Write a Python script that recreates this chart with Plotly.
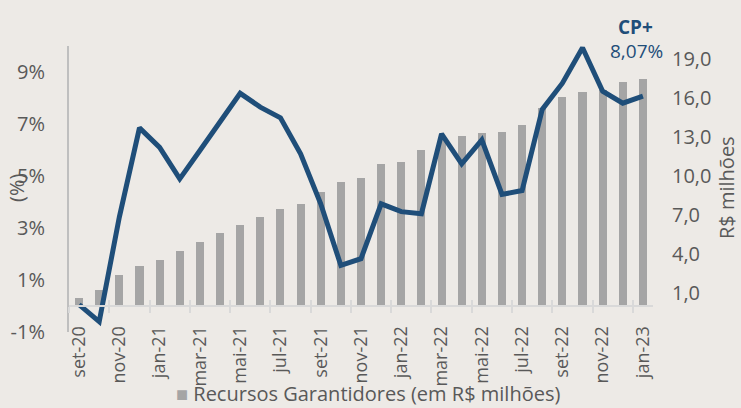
import plotly.graph_objects as go

months = ["set-20", "out-20", "nov-20", "dez-20", "jan-21", "fev-21", "mar-21", "abr-21",
          "mai-21", "jun-21", "jul-21", "ago-21", "set-21", "out-21", "nov-21", "dez-21",
          "jan-22", "fev-22", "mar-22", "abr-22", "mai-22", "jun-22", "jul-22", "ago-22",
          "set-22", "out-22", "nov-22", "dez-22", "jan-23"]
recursos = [0.6, 1.2, 2.35, 3.05, 3.55, 4.25, 4.95, 5.65, 6.25, 6.85, 7.45, 7.85, 8.8,
            9.55, 9.85, 10.9, 11.1, 12.0, 12.8, 13.1, 13.3, 13.4, 13.9, 15.2, 16.1,
            16.5, 16.6, 17.2, 17.45]
cp_plus = [0.05, -0.6, 3.42, 6.85, 6.1, 4.89, 5.98, 7.07, 8.18, 7.65, 7.24, 5.85, 3.93,
           1.56, 1.82, 3.93, 3.63, 3.55, 6.62, 5.47, 6.39, 4.29, 4.44, 7.56, 8.57, 9.93,
           8.26, 7.8, 8.07]
left_ticks = [-1, 1, 3, 5, 7, 9]
right_ticks = [1, 4, 7, 10, 13, 16, 19]
legend_label = "Recursos Garantidores (em R$ milhões)"

BG = "#EDEAE6"
BLUE = "#1F4E79"
GRAY_BAR = "#A5A5A5"
TXT = "#595959"
FONT = "Open Sans"

n = len(months)
xs = list(range(n))
label_idx = xs[::2]
boundaries = [i - 0.5 for i in xs[::2]]

fig = go.Figure()
fig.add_trace(go.Bar(x=xs, y=recursos, width=0.4, marker=dict(color=GRAY_BAR, line=dict(width=0)),
                     name=legend_label, xaxis="x", yaxis="y", showlegend=False,
                     hoverinfo="skip"))
fig.add_trace(go.Scatter(x=xs, y=cp_plus, mode="lines", line=dict(color=BLUE, width=5),
                         showlegend=False, xaxis="x2", yaxis="y2", hoverinfo="skip"))

L, R, T, B = 69, 88, 46, 76
W, H = 741, 408
pw, ph = W - L - R, H - T - B
zero_pos = (0 - (-1)) / (10 - (-1))

fig.update_layout(
    width=W, height=H,
    margin=dict(l=L, r=R, t=T, b=B, pad=0, autoexpand=False),
    paper_bgcolor=BG, plot_bgcolor=BG,
    font=dict(family=FONT, color=TXT, size=20),
    bargap=0,
    showlegend=False,
    xaxis=dict(range=[-0.5, n - 0.5], anchor="free", position=zero_pos, automargin=False,
               showline=True, linecolor="#D9D9D9", linewidth=2,
               tickmode="array", tickvals=label_idx, ticktext=months[::2],
               tickangle=-90, ticks="", showgrid=False, zeroline=False,
               ticklabelstandoff=12,
               minor=dict(tickmode="array", tickvals=boundaries, ticks="outside",
                          ticklen=6, tickwidth=2, tickcolor="#D9D9D9", showgrid=False),
               tickfont=dict(size=18, color=TXT, family=FONT)),
    xaxis2=dict(range=[-0.5, n - 0.5], overlaying="x", anchor="free", position=zero_pos,
                automargin=False,
                showline=False, tickmode="array", tickvals=boundaries, ticks="inside",
                ticklen=6, tickwidth=2, tickcolor="#D9D9D9", showticklabels=False,
                showgrid=False, zeroline=False),
    yaxis=dict(range=[-2, 20], side="right", tickmode="array", tickvals=right_ticks,
               ticktext=[f"{v:.1f}".replace(".", ",") for v in right_ticks],
               showgrid=False, zeroline=False, showline=False, ticks="", automargin=False,
               ticklabelstandoff=18, tickfont=dict(size=20, color=TXT, family=FONT)),
    yaxis2=dict(range=[-1, 10], overlaying="y", side="left", anchor="x", tickmode="array",
                tickvals=left_ticks, ticktext=[f"{v}%" for v in left_ticks], automargin=False,
                showgrid=False, zeroline=False, showline=True, linecolor="#BFBFBF",
                linewidth=2, ticks="", ticklabelstandoff=18,
                tickfont=dict(size=20, color=TXT, family=FONT)),
)

def px(xp):
    return (xp - L) / pw

def py(yp):
    return (H - B - yp) / ph

ann_font = dict(size=20, color=TXT, family=FONT)
fig.add_annotation(text="(%)", x=px(16), y=py(188), xref="paper", yref="paper",
                   textangle=-90, showarrow=False, font=ann_font,
                   xanchor="center", yanchor="middle")
fig.add_annotation(text="R$ milhões", x=px(726), y=py(188), xref="paper", yref="paper",
                   textangle=-90, showarrow=False, font=ann_font,
                   xanchor="center", yanchor="middle")
fig.add_annotation(text="<b>CP+</b>", x=px(635), y=py(27), xref="paper", yref="paper",
                   showarrow=False, font=dict(size=19, color=BLUE, family=FONT),
                   xanchor="center", yanchor="middle")
fig.add_annotation(text="8,07%", x=px(636), y=py(51), xref="paper", yref="paper",
                   showarrow=False, font=dict(size=19, color=BLUE, family=FONT),
                   xanchor="center", yanchor="middle")
# legend-like label under the chart
fig.add_annotation(text=f"<span style='color:{GRAY_BAR}'>■</span> {legend_label}",
                   x=px(175), y=py(408), xref="paper", yref="paper",
                   showarrow=False, font=dict(size=20, color=TXT, family=FONT),
                   xanchor="left", yanchor="bottom", borderpad=0)

fig.write_html("out.html")
